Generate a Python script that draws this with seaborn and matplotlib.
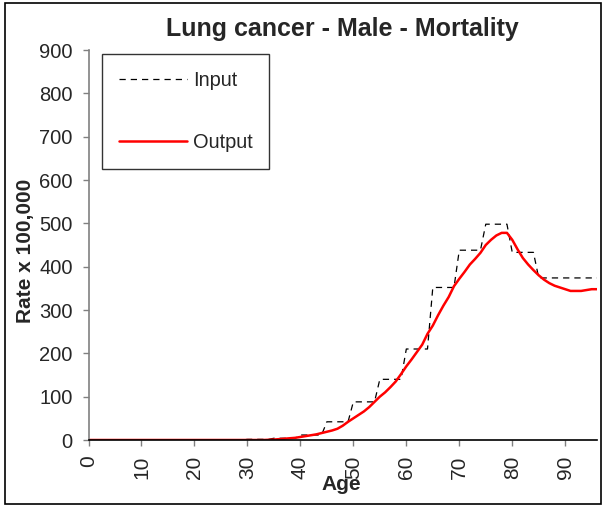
import numpy as np
import pandas as pd
import matplotlib
matplotlib.use("Agg")
import matplotlib.pyplot as plt
import seaborn as sns
from matplotlib.patches import Rectangle

# ---- data ----
input_group_start = [0, 30, 35, 40, 45, 50, 55, 60, 65, 70, 75, 80, 85]
input_group_end = [30, 35, 40, 45, 50, 55, 60, 65, 70, 75, 80, 85, 97]
input_group_rate = [0, 1.5, 4, 11.5, 42, 88, 140, 210, 352, 438, 498, 433, 374]

output_ages = list(range(0, 97))
output_rate = ([0] * 34 +
               [0.5, 1, 2, 3, 4, 5, 7, 9, 11, 13, 16, 19, 22, 26, 33, 42,
                50, 58, 66, 76, 88, 100, 110, 122, 135, 152, 170, 186, 203, 220,
                245, 264, 288, 310, 330, 355, 372, 388, 405, 418, 432, 450, 462,
                472, 478, 478, 462, 440, 420, 405, 392, 380, 370, 362, 356, 352,
                348, 344, 344, 344, 346, 348, 348])

x_ticks = [0, 10, 20, 30, 40, 50, 60, 70, 80, 90]
y_ticks = [0, 100, 200, 300, 400, 500, 600, 700, 800, 900]

# expand 5-year groups into single years
input_ages = []
input_rate = []
for s, e, r in zip(input_group_start, input_group_end, input_group_rate):
    for a in range(s, e):
        input_ages.append(a)
        input_rate.append(r)

df_in = pd.DataFrame({"Age": input_ages, "Rate": input_rate})
df_out = pd.DataFrame({"Age": output_ages, "Rate": output_rate})

sns.set_style("white")
plt.rcParams["font.family"] = ["Liberation Sans", "DejaVu Sans"]

fig = plt.figure(figsize=(6.02, 5.05), dpi=100)
ax = fig.add_axes([88.5 / 602, 1 - 440 / 505, (597 - 88.5) / 602, (440 - 50) / 505])

sns.lineplot(data=df_in, x="Age", y="Rate", ax=ax, color="black", lw=0.9,
             linestyle=(0, (5, 4)), label="Input")
sns.lineplot(data=df_out, x="Age", y="Rate", ax=ax, color="#ff0000", lw=1.8,
             label="Output")

ax.set_xlim(0, 96)
ax.set_ylim(0, 900)
ax.set_xticks(x_ticks)
ax.set_yticks(y_ticks)
ax.set_xticklabels([str(t) for t in x_ticks], rotation=90, fontsize=15)
ax.set_yticklabels([str(t) for t in y_ticks], fontsize=14.5)
ax.tick_params(axis="both", direction="out", length=4.3, width=1, color="#808080",
               left=True, bottom=True, pad=7)

for s in ["top", "right"]:
    ax.spines[s].set_visible(False)
ax.spines["left"].set_color("#808080")
ax.spines["left"].set_linewidth(1.2)
ax.spines["bottom"].set_color("black")
ax.spines["bottom"].set_linewidth(1.2)

ax.set_title("Lung cancer - Male - Mortality", fontsize=18, fontweight="bold", pad=10)
ax.set_xlabel("Age", fontsize=15, fontweight="bold")
ax.xaxis.set_label_coords(0.497, -0.0897)
ax.set_ylabel("Rate x 100,000", fontsize=15, fontweight="bold")
ax.yaxis.set_label_coords(-0.105, 0.485)

leg = ax.legend(loc="upper left", bbox_to_anchor=((101.7 - 88.5) / 508.5, (440 - 54) / 390),
                fontsize=14.4, frameon=True, fancybox=False, edgecolor="black",
                handlelength=3.4, handletextpad=0.3, labelspacing=2.15,
                borderpad=0.85, borderaxespad=0)
leg.get_frame().set_linewidth(1)

fig.patches.append(Rectangle((5 / 602, 1 - 504 / 505), 596 / 602, 501 / 505,
                             transform=fig.transFigure, fill=False,
                             edgecolor="black", lw=1.2))

fig.savefig("out.png", dpi=100)
